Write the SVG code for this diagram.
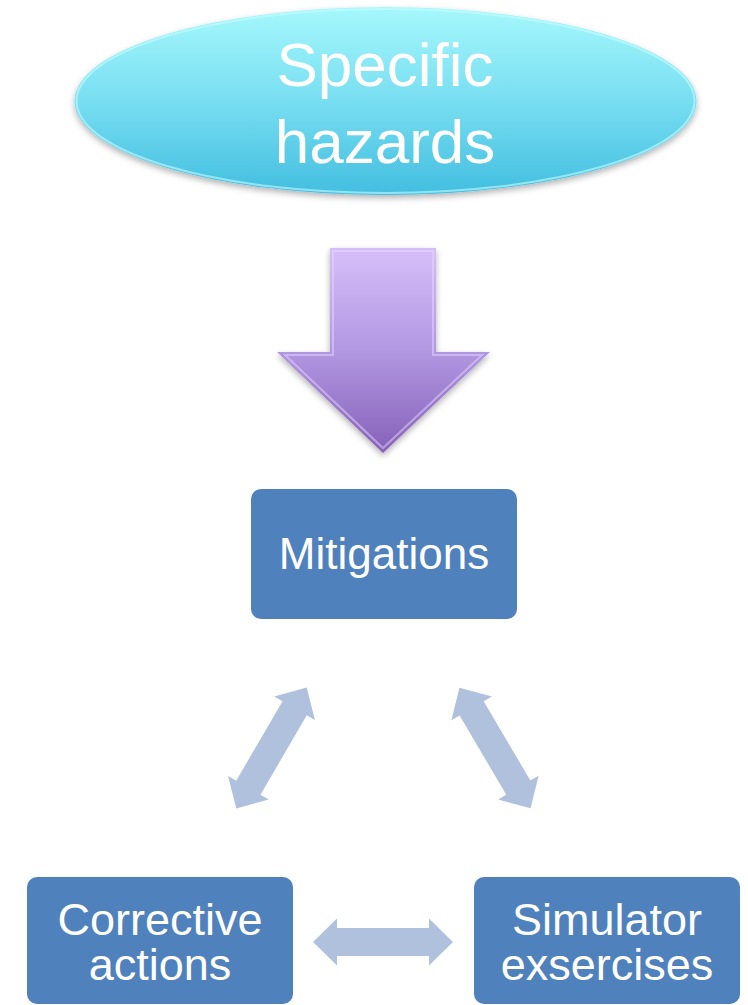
<svg xmlns="http://www.w3.org/2000/svg" width="748" height="1005" viewBox="0 0 748 1005">
  <defs>
    <style>
      .lbl { font-family: "Liberation Sans", Arial, sans-serif; fill: #ffffff; text-anchor: middle; }
      .box { fill: #4F81BD; }
      .dbl { fill: #B0C1DE; }
    </style>
    <linearGradient id="gEll" x1="0" y1="0" x2="0" y2="1">
      <stop offset="0" stop-color="#A6F8FC"/>
      <stop offset="0.5" stop-color="#78DEF1"/>
      <stop offset="1" stop-color="#42BEE0"/>
    </linearGradient>
    <linearGradient id="gArr" x1="0" y1="0" x2="0" y2="1">
      <stop offset="0" stop-color="#D6BFF9"/>
      <stop offset="0.5" stop-color="#B297E2"/>
      <stop offset="1" stop-color="#8561B8"/>
    </linearGradient>
    <filter id="shadow" x="-10%" y="-10%" width="120%" height="130%">
      <feDropShadow dx="0" dy="3" stdDeviation="3" flood-color="#000000" flood-opacity="0.3"/>
    </filter>
    <polygon id="dblArrow" points="-70,0 -46,-23.5 -46,-14 46,-14 46,-23.5 70,0 46,23.5 46,14 -46,14 -46,23.5"/>
  </defs>

  <g id="node-hazards">
    <ellipse cx="385.5" cy="101" rx="311" ry="94" fill="url(#gEll)" filter="url(#shadow)"/>
    <ellipse cx="385.5" cy="101" rx="309" ry="92" fill="none" stroke="#C8FCFF" stroke-opacity="0.6" stroke-width="2"/>
    <text class="lbl" x="385" y="86" font-size="62">Specific</text>
    <text class="lbl" x="385" y="163" font-size="62">hazards</text>
  </g>

  <g id="node-down-arrow">
    <polygon points="330,248 436,248 436,352 490,352 383,453 277,352 330,352" fill="url(#gArr)" filter="url(#shadow)"/>
    <polygon points="333,251 433,251 433,355 482,355 383,448 285,355 333,355" fill="none" stroke="#E8DAFF" stroke-opacity="0.5" stroke-width="2"/>
  </g>

  <g id="node-mitigations">
    <rect class="box" x="251" y="489" width="266" height="130" rx="10"/>
    <text class="lbl" x="384" y="569" font-size="44">Mitigations</text>
  </g>

  <g id="node-corrective">
    <rect class="box" x="27" y="877" width="266" height="127" rx="10"/>
    <text class="lbl" x="160" y="935" font-size="45">Corrective</text>
    <text class="lbl" x="160" y="980" font-size="45">actions</text>
  </g>

  <g id="node-simulator">
    <rect class="box" x="474" y="877" width="266" height="127" rx="10"/>
    <text class="lbl" x="607" y="935" font-size="45">Simulator</text>
    <text class="lbl" x="607" y="980" font-size="45">exsercises</text>
  </g>

  <g id="connectors">
    <use href="#dblArrow" class="dbl" transform="translate(271.5,748) rotate(-59.8)"/>
    <use href="#dblArrow" class="dbl" transform="translate(495,748) rotate(59.5)"/>
    <use href="#dblArrow" class="dbl" transform="translate(383,942)"/>
  </g>
</svg>
